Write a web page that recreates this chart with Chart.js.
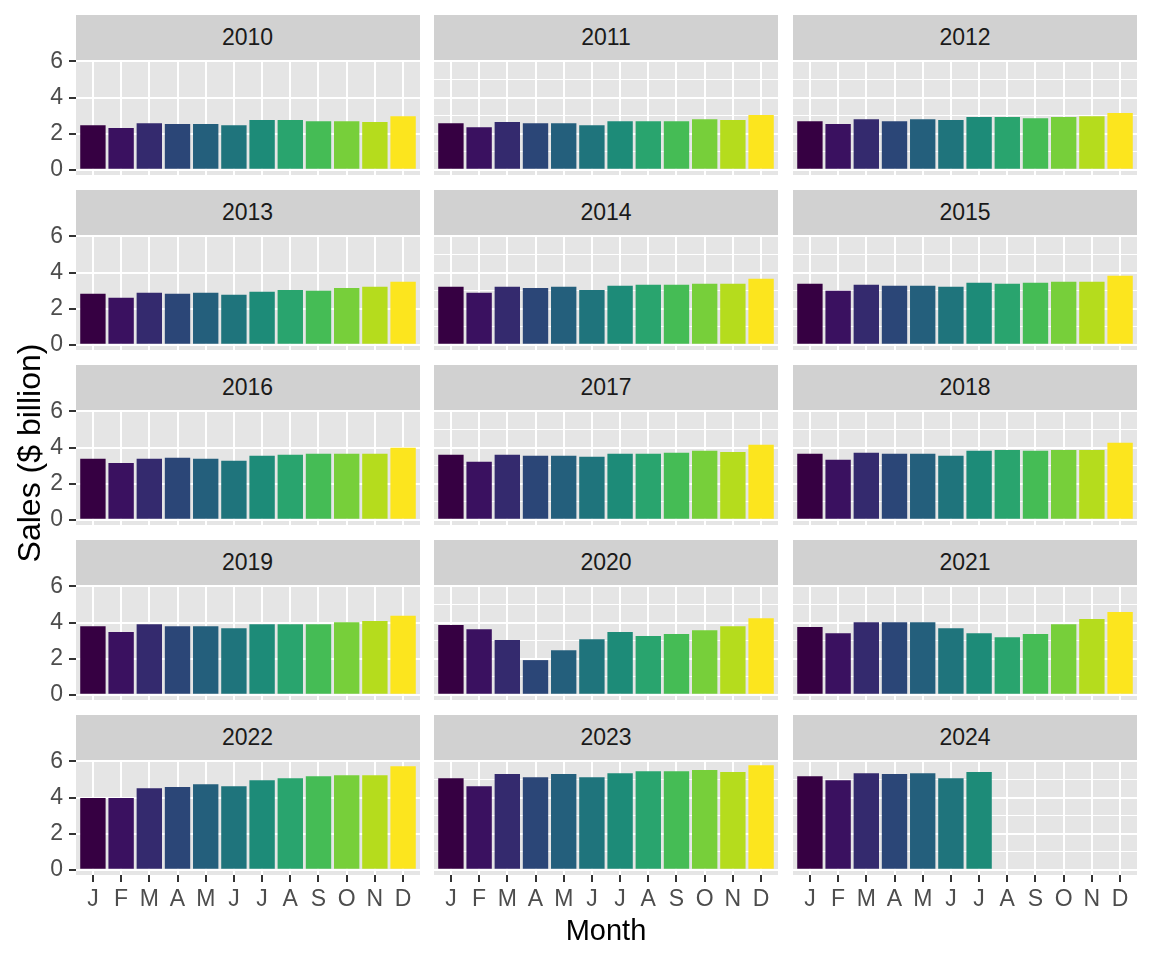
<!DOCTYPE html>
<html>
<head>
<meta charset="utf-8">
<script src="https://cdn.jsdelivr.net/npm/chart.js@4.4.1/dist/chart.umd.min.js"></script>
<style>
  body { margin: 0; background: #fff; }
  #fig { position: relative; width: 1152px; height: 960px; overflow: hidden;
         font-family: "Liberation Sans", Arial, Helvetica, sans-serif; }
  .strip { position: absolute; background: #d1d1d1; color: #1a1a1a; font-size: 23px; text-align: center; }
  canvas { position: absolute; }
  .axtitle { position: absolute; color: #000; font-size: 29px; line-height: 30px; text-align: center; white-space: nowrap; }
</style>
</head>
<body>
<div id="fig"></div>
<script>
// Monthly sales, $ billion, one array per year
const MONTHS = ["J", "F", "M", "A", "M", "J", "J", "A", "S", "O", "N", "D"];
const YEARS = [2010, 2011, 2012, 2013, 2014, 2015, 2016, 2017, 2018, 2019, 2020, 2021, 2022, 2023, 2024];

const SALES_2010 = [2.47, 2.31, 2.58, 2.53, 2.53, 2.47, 2.75, 2.75, 2.69, 2.69, 2.64, 2.97];
const SALES_2011 = [2.58, 2.36, 2.64, 2.58, 2.58, 2.47, 2.69, 2.69, 2.69, 2.80, 2.75, 3.03];
const SALES_2012 = [2.69, 2.53, 2.80, 2.69, 2.80, 2.75, 2.92, 2.92, 2.86, 2.92, 2.97, 3.14];
const SALES_2013 = [2.82, 2.60, 2.88, 2.82, 2.88, 2.77, 2.93, 3.04, 2.99, 3.15, 3.21, 3.49];
const SALES_2014 = [3.21, 2.88, 3.21, 3.15, 3.21, 3.04, 3.27, 3.32, 3.32, 3.38, 3.38, 3.65];
const SALES_2015 = [3.38, 2.99, 3.32, 3.27, 3.27, 3.21, 3.43, 3.38, 3.43, 3.49, 3.49, 3.82];
const SALES_2016 = [3.38, 3.15, 3.38, 3.43, 3.38, 3.27, 3.54, 3.60, 3.65, 3.65, 3.65, 3.99];
const SALES_2017 = [3.60, 3.21, 3.60, 3.54, 3.54, 3.49, 3.65, 3.65, 3.71, 3.82, 3.76, 4.15];
const SALES_2018 = [3.65, 3.32, 3.71, 3.65, 3.65, 3.54, 3.82, 3.87, 3.82, 3.87, 3.87, 4.26];
const SALES_2019 = [3.80, 3.47, 3.91, 3.80, 3.80, 3.69, 3.91, 3.91, 3.91, 4.02, 4.08, 4.37];
const SALES_2020 = [3.86, 3.63, 3.03, 1.92, 2.47, 3.08, 3.47, 3.25, 3.36, 3.58, 3.80, 4.24];
const SALES_2021 = [3.75, 3.41, 4.02, 4.02, 4.02, 3.69, 3.41, 3.19, 3.36, 3.91, 4.19, 4.58];
const SALES_2022 = [3.97, 3.97, 4.52, 4.58, 4.74, 4.63, 4.96, 5.07, 5.18, 5.24, 5.24, 5.74];
const SALES_2023 = [5.07, 4.63, 5.30, 5.13, 5.30, 5.13, 5.35, 5.46, 5.46, 5.52, 5.41, 5.79];
const SALES_2024 = [5.18, 4.96, 5.35, 5.30, 5.35, 5.07, 5.41];

const SERIES = [SALES_2010, SALES_2011, SALES_2012, SALES_2013, SALES_2014, SALES_2015,
  SALES_2016, SALES_2017, SALES_2018, SALES_2019, SALES_2020, SALES_2021,
  SALES_2022, SALES_2023, SALES_2024];

const Y_BREAKS = [0, 1, 2, 3, 4, 5, 6]; // even = labelled major, odd = minor grid
const FILLS = ["#360042", "#3a1160", "#342a6e", "#2b4677", "#245f7c", "#1f747c",
  "#1d8b78", "#29a46e", "#45bc55", "#77cf3a", "#b5dc1d", "#fce51e"];

// layout of the facet grid
const PANEL_X = [75.5, 434, 793];
const PANEL_W = 344, PANEL_H = 115;
const STRIP_TOP = 15, STRIP_H = 44.5, ROW_STEP = 175;
const YAX_W = 70, XAX_H = 40, M = 15;

Chart.defaults.font.family = '"Liberation Sans", Arial, Helvetica, sans-serif';

const panelBg = {
  id: "panelBg",
  beforeDraw(chart) {
    const a = chart.chartArea, c = chart.ctx;
    c.save();
    c.fillStyle = "#e5e5e5";
    c.fillRect(a.left, a.top, a.right - a.left, a.bottom - a.top);
    c.restore();
  },
};

const fig = document.getElementById("fig");
const maxVal = Math.max(...SERIES.flat());
const yMin = -0.05 * maxVal, yMax = 1.05 * maxVal;
const isMinor = (c) => c.tick && c.tick.value % 2 !== 0;

YEARS.forEach((yr, k) => {
  const col = k % 3, row = Math.floor(k / 3);
  const left = col === 0, bottom = row === 4;
  const stripTop = STRIP_TOP + row * ROW_STEP;

  const strip = document.createElement("div");
  strip.className = "strip";
  strip.textContent = yr;
  Object.assign(strip.style, {
    left: PANEL_X[col] + "px", top: stripTop + "px",
    width: PANEL_W + "px", height: STRIP_H + "px", lineHeight: STRIP_H + "px",
  });
  fig.appendChild(strip);

  const w = PANEL_W + (left ? YAX_W : 0);
  const h = M + PANEL_H + (bottom ? XAX_H : M);
  const cv = document.createElement("canvas");
  cv.width = w; cv.height = h;
  Object.assign(cv.style, {
    left: (PANEL_X[col] - (left ? YAX_W : 0)) + "px",
    top: (stripTop + STRIP_H - M) + "px",
    width: w + "px", height: h + "px",
  });
  fig.appendChild(cv);

  new Chart(cv, {
    type: "bar",
    data: {
      datasets: [{
        data: SERIES[k].map((v, i) => ({ x: i + 1, y: v })),
        backgroundColor: FILLS,
        borderWidth: 0,
        barPercentage: 0.9,
        categoryPercentage: 1,
      }],
    },
    options: {
      responsive: false, animation: false, events: [],
      layout: { padding: { top: M, bottom: bottom ? 0 : M, left: 0, right: 0 } },
      plugins: { legend: { display: false }, tooltip: { enabled: false } },
      scales: {
        x: {
          type: "linear", min: 0.4, max: 12.6, offset: false,
          afterBuildTicks: (s) => { s.ticks = MONTHS.map((m, i) => ({ value: i + 1 })); },
          afterFit: (s) => { s.height = bottom ? XAX_H : 0; s.paddingLeft = 0; s.paddingRight = 0; },
          border: { display: false },
          grid: { offset: false, color: "#fff", lineWidth: 2, drawTicks: bottom, tickLength: 7, tickColor: "#333", tickWidth: 2 },
          ticks: {
            display: bottom, autoSkip: false, maxRotation: 0, padding: 4,
            color: "#4d4d4d", font: { size: 23 },
            callback: (v) => MONTHS[v - 1],
          },
        },
        y: {
          min: yMin, max: yMax,
          afterBuildTicks: (s) => { s.ticks = Y_BREAKS.map((v) => ({ value: v })); },
          afterFit: (s) => { s.width = left ? YAX_W : 0; s.paddingTop = 0; s.paddingBottom = 0; },
          border: { display: false },
          grid: {
            color: "#fff",
            lineWidth: (c) => (isMinor(c) ? 1 : 2),
            drawTicks: left, tickLength: 7, tickWidth: 2,
            tickColor: (c) => (isMinor(c) ? "rgba(0,0,0,0)" : "#333"),
          },
          ticks: {
            display: left, padding: 6, color: "#4d4d4d", font: { size: 23 },
            callback: (v) => (v % 2 ? "" : v),
          },
        },
      },
    },
    plugins: [panelBg],
  });
});

// axis titles
const xt = document.createElement("div");
xt.className = "axtitle";
xt.textContent = "Month";
Object.assign(xt.style, { left: "456px", width: "300px", top: "915px" });
fig.appendChild(xt);

const yt = document.createElement("div");
yt.className = "axtitle";
yt.textContent = "Sales ($ billion)";
Object.assign(yt.style, { left: (28.5 - 150) + "px", width: "300px", top: (453 - 16) + "px",
  fontSize: "32px", lineHeight: "32px", transform: "rotate(-90deg)" });
fig.appendChild(yt);
</script>
</body>
</html>
